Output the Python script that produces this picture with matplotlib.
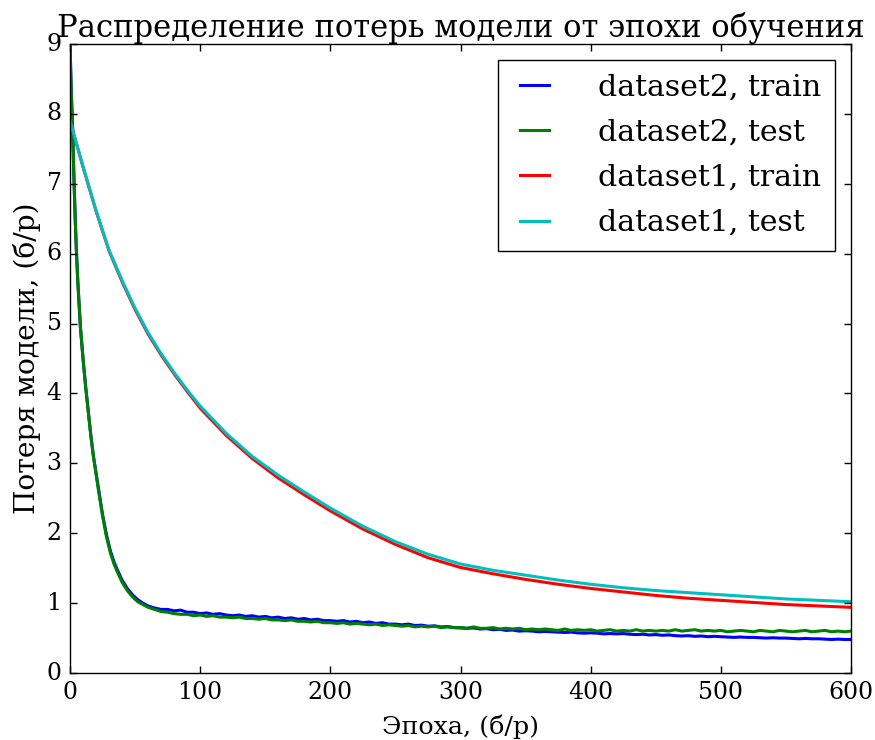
import matplotlib
matplotlib.use("Agg")
import matplotlib.pyplot as plt
import numpy as np

# ---------------- data ----------------
title = "Распределение потерь модели от эпохи обучения"
xlabel = "Эпоха, (б/р)"
ylabel = "Потеря модели, (б/р)"
labels = ["dataset2, train", "dataset2, test", "dataset1, train", "dataset1, test"]

# dataset2: fast initial drop, then flat noisy tail
d2_epochs_early = [0, 1, 2, 3, 4, 5, 6, 8, 10, 12, 14, 16, 18, 20, 22, 25, 28, 31, 34, 37,
                   40, 44, 48, 52, 56, 60, 65, 70]
d2_train_early = [9.0, 8.3, 7.8, 7.1, 6.5, 6.0, 5.6, 4.95, 4.5, 4.1, 3.75, 3.4, 3.1, 2.86, 2.62,
                  2.27, 1.98, 1.75, 1.58, 1.45, 1.33, 1.21, 1.12, 1.05, 1.00, 0.96, 0.93, 0.91]
d2_test_early = [9.0, 8.3, 7.8, 7.1, 6.5, 6.0, 5.6, 4.95, 4.5, 4.1, 3.75, 3.4, 3.1, 2.85, 2.6,
                 2.25, 1.95, 1.72, 1.55, 1.42, 1.30, 1.18, 1.09, 1.02, 0.98, 0.94, 0.91, 0.88]

d2_epochs_tail = list(range(75, 601, 5))
d2_train_tail = [0.91, 0.89, 0.90, 0.87, 0.87, 0.85, 0.86, 0.84, 0.85, 0.83,
                 0.82, 0.83, 0.81, 0.82, 0.80, 0.81, 0.79, 0.80, 0.78, 0.79,
                 0.77, 0.78, 0.76, 0.77, 0.75, 0.75, 0.74, 0.75, 0.73, 0.74,
                 0.72, 0.73, 0.71, 0.72, 0.70, 0.70, 0.69, 0.70, 0.68, 0.685,
                 0.67, 0.675, 0.66, 0.665, 0.65, 0.645, 0.64, 0.645, 0.63, 0.635,
                 0.62, 0.625, 0.61, 0.615, 0.60, 0.605, 0.60, 0.59, 0.595, 0.59,
                 0.585, 0.58, 0.585, 0.575, 0.57, 0.575, 0.57, 0.56, 0.565, 0.56,
                 0.565, 0.555, 0.55, 0.555, 0.545, 0.55, 0.54, 0.545, 0.535, 0.53,
                 0.535, 0.525, 0.53, 0.52, 0.525, 0.52, 0.515, 0.51, 0.515, 0.51,
                 0.51, 0.505, 0.50, 0.505, 0.50, 0.50, 0.495, 0.49, 0.495, 0.49,
                 0.49, 0.485, 0.48, 0.485, 0.48, 0.48]
d2_test_tail = [0.87, 0.85, 0.84, 0.84, 0.82, 0.83, 0.81, 0.82, 0.80, 0.80,
                0.79, 0.80, 0.78, 0.78, 0.77, 0.78, 0.76, 0.76, 0.75, 0.76,
                0.74, 0.74, 0.73, 0.74, 0.72, 0.72, 0.71, 0.72, 0.70, 0.71,
                0.70, 0.69, 0.70, 0.68, 0.69, 0.68, 0.67, 0.68, 0.66, 0.67,
                0.66, 0.67, 0.65, 0.66, 0.65, 0.65, 0.64, 0.66, 0.64, 0.64,
                0.65, 0.63, 0.64, 0.63, 0.64, 0.62, 0.63, 0.62, 0.63, 0.62,
                0.61, 0.63, 0.61, 0.62, 0.61, 0.62, 0.60, 0.61, 0.62, 0.60,
                0.61, 0.60, 0.62, 0.60, 0.61, 0.60, 0.61, 0.60, 0.62, 0.60,
                0.61, 0.62, 0.60, 0.61, 0.60, 0.61, 0.59, 0.60, 0.61, 0.60,
                0.59, 0.61, 0.60, 0.59, 0.61, 0.60, 0.59, 0.60, 0.61, 0.59,
                0.60, 0.61, 0.59, 0.60, 0.59, 0.60]

# dataset1: slow smooth decay
d1_epochs = [0, 10, 20, 30, 40, 50, 60, 70, 80, 90, 100, 120, 140, 160, 180, 200, 225, 250,
             275, 300, 325, 350, 375, 400, 425, 450, 475, 500, 525, 550, 575, 600]
d1_train = [7.90, 7.24, 6.61, 6.04, 5.60, 5.20, 4.85, 4.55, 4.28, 4.03, 3.79, 3.40, 3.07, 2.79,
            2.55, 2.32, 2.06, 1.84, 1.65, 1.51, 1.42, 1.34, 1.27, 1.21, 1.16, 1.11, 1.07, 1.04,
            1.01, 0.98, 0.96, 0.94]
d1_test = [7.90, 7.25, 6.62, 6.05, 5.62, 5.22, 4.87, 4.57, 4.30, 4.05, 3.82, 3.43, 3.10, 2.83,
           2.59, 2.36, 2.10, 1.88, 1.70, 1.56, 1.47, 1.40, 1.33, 1.27, 1.22, 1.18, 1.15, 1.12,
           1.09, 1.06, 1.04, 1.02]

xticks = [0, 100, 200, 300, 400, 500, 600]
yticks = [0, 1, 2, 3, 4, 5, 6, 7, 8, 9]

# ---------------- style ----------------
plt.style.use("classic")
plt.rcParams["font.family"] = ["DejaVu Serif", "DejaVu Sans"]
plt.rcParams["figure.facecolor"] = "white"
plt.rcParams["savefig.facecolor"] = "white"

fig = plt.figure(figsize=(8.75, 7.4), dpi=100)
ax = fig.add_axes([0.08, 0.0905, 0.8926, 0.85])

d2x = d2_epochs_early + d2_epochs_tail
ax.plot(d2x, d2_train_early + d2_train_tail, color="b", lw=2.2, label=labels[0])
ax.plot(d2x, d2_test_early + d2_test_tail, color="g", lw=2.2, label=labels[1])
ax.plot(d1_epochs, d1_train, color="r", lw=2.2, label=labels[2])
ax.plot(d1_epochs, d1_test, color="c", lw=2.2, label=labels[3])

ax.set_xlim(0, 600)
ax.set_ylim(0, 9)
ax.set_xticks(xticks)
ax.set_yticks(yticks)
ax.tick_params(labelsize=17, direction="in", top=True, right=True, length=5, width=1, pad=6)
t = ax.set_title(title, fontsize=22, pad=5)
xl = ax.set_xlabel(xlabel, fontsize=18, labelpad=7)
yl = ax.set_ylabel(ylabel, fontsize=19, labelpad=4)

leg = ax.legend(loc="upper right", fontsize=21.6, frameon=True, fancybox=False,
                handlelength=1.55, handletextpad=1.35, borderaxespad=0.54, labelspacing=0.57,
                borderpad=0.45, numpoints=2)
leg.get_frame().set_edgecolor("black")
leg.get_frame().set_linewidth(1.0)

# fit text sizes to the reference's measured pixel extents
fig.canvas.draw()
r = fig.canvas.get_renderer()
def fit(txt, target, horizontal=True):
    bb = txt.get_window_extent(r)
    size = bb.width if horizontal else bb.height
    txt.set_fontsize(txt.get_fontsize() * target / size)
fit(t, 806)
fit(xl, 157)
fit(yl, 313, horizontal=False)

fig.savefig("out.png", dpi=100)
